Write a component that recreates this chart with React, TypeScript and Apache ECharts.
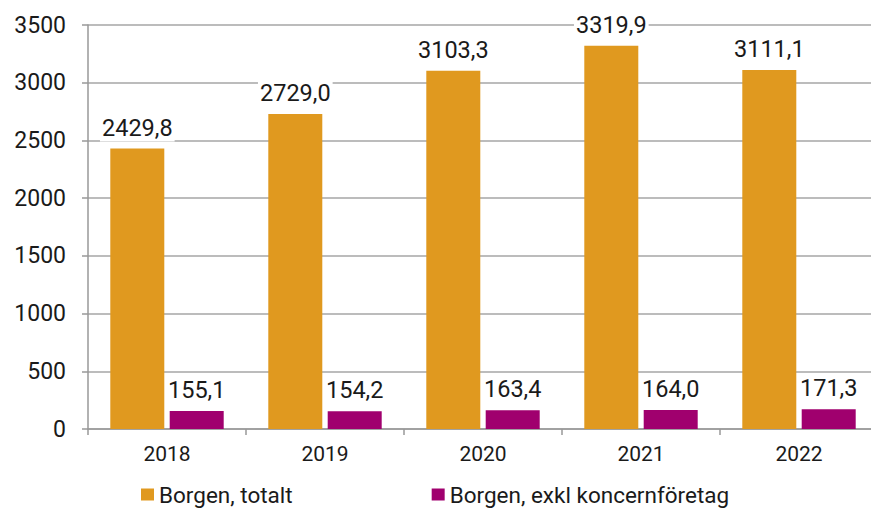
import React, { useEffect, useRef } from "react";
import * as echarts from "echarts";

const categories = ["2018", "2019", "2020", "2021", "2022"];
const totalt = [2429.8, 2729.0, 3103.3, 3319.9, 3111.1];
const exkl = [155.1, 154.2, 163.4, 164.0, 171.3];
const seriesNames = ["Borgen, totalt", "Borgen, exkl koncernföretag"];
const colors = ["#E0991F", "#A0006E"];

const fmt = (v: number) => v.toFixed(1).replace(".", ",");

export default function App() {
  const ref = useRef<HTMLDivElement>(null);
  useEffect(() => {
    if (!ref.current) return;
    const chart = echarts.init(ref.current, null, { renderer: "svg" });
    const labelCfg = {
      show: true,
      position: "top",
      distance: 7,
      fontFamily: "Roboto",
      fontSize: 23.5,
      color: "#1a1a1a",
      backgroundColor: "#ffffff",
      padding: [2, 2, 2, 2],
      formatter: (p: any) => fmt(p.value),
    };
    chart.setOption({
      animation: false,
      textStyle: { fontFamily: "Roboto" },
      grid: { left: 88, top: 25, width: 790, height: 404, outerBoundsMode: "none", containLabel: false },
      legend: {
        left: 136,
        top: 478,
        itemWidth: 13,
        itemHeight: 12,
        itemGap: 139,
        icon: "rect",
        textStyle: { fontSize: 22.5, color: "#1a1a1a", fontFamily: "Roboto" },
        data: seriesNames,
      },
      xAxis: {
        type: "category",
        data: categories,
        boundaryGap: true,
        axisLine: { show: true, lineStyle: { color: "#999999", width: 1.5 } },
        axisTick: { show: true, length: 6, lineStyle: { color: "#999999", width: 1.5 } },
        axisLabel: { fontSize: 21, color: "#1a1a1a", margin: 14, fontFamily: "Roboto" },
        splitLine: { show: false },
      },
      yAxis: {
        type: "value",
        min: 0,
        max: 3500,
        interval: 500,
        axisLine: { show: true, lineStyle: { color: "#999999", width: 1.5 } },
        axisTick: { show: true, length: 6, lineStyle: { color: "#999999", width: 1.5 } },
        axisLabel: {
          fontSize: 23,
          color: "#1a1a1a",
          margin: 22,
          fontFamily: "Roboto",
          formatter: (v: number) => String(v),
        },
        splitLine: { show: true, lineStyle: { color: "#a6a6a6", width: 1.5 } },
      },
      series: [
        {
          name: seriesNames[0],
          type: "bar",
          data: totalt,
          barWidth: 54,
          barGap: "10%",
          itemStyle: { color: colors[0] },
          label: labelCfg,
        },
        {
          name: seriesNames[1],
          type: "bar",
          data: exkl,
          barWidth: 54,
          barGap: "10%",
          itemStyle: { color: colors[1] },
          label: labelCfg,
        },
      ],
    });
    return () => chart.dispose();
  }, []);
  return (
    <div
      ref={ref}
      style={{ position: "fixed", left: 0, top: 0, width: 871, height: 508, background: "#fff" }}
    />
  );
}
